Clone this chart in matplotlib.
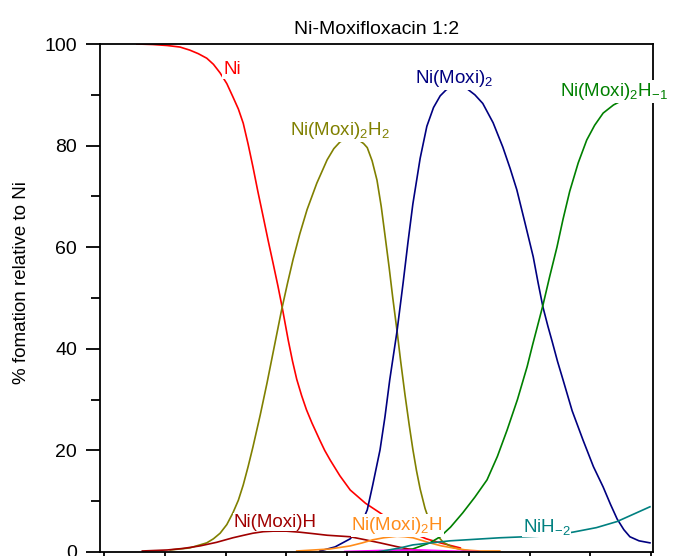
import numpy as np
import matplotlib
matplotlib.use("Agg")
import matplotlib.pyplot as plt

plt.rcParams['font.family'] = ['Liberation Sans', 'DejaVu Sans']
plt.rcParams['mathtext.fontset'] = 'custom'
plt.rcParams['mathtext.rm'] = 'Liberation Sans'
plt.rcParams['mathtext.it'] = 'Liberation Sans:italic'

# species distribution (x = pH, y = % formation)
ni_ph = [2.54, 2.80, 3.04, 3.25, 3.41, 3.55, 3.69, 3.80, 3.91, 4.02, 4.12, 4.21,
         4.29, 4.37, 4.45, 4.53, 4.62, 4.70, 4.78, 4.86, 4.93, 5.03, 5.10, 5.17,
         5.25, 5.33, 5.42, 5.55, 5.63, 5.72, 5.88, 6.05, 6.30, 6.54, 6.80, 7.08,
         7.30, 7.53, 7.86]
ni_y = [100, 99.9, 99.7, 99.4, 98.8, 98.1, 97.2, 96.0, 94.3, 92.2, 89.6, 87.2,
        84.4, 80.3, 75.8, 71.0, 65.9, 61.3, 56.9, 52.4, 48.2, 41.7, 37.6, 34.0,
        30.8, 28.0, 25.4, 22.0, 20.0, 18.1, 15.0, 12.2, 9.6, 7.7, 5.6, 3.7,
        2.6, 1.8, 0.8]

h2_ph = [3.09, 3.41, 3.69, 3.80, 3.91, 4.02, 4.12, 4.21, 4.29, 4.37, 4.45, 4.57,
         4.68, 4.79, 4.92, 5.02, 5.11, 5.22, 5.34, 5.50, 5.67, 5.78, 5.88, 6.00,
         6.10, 6.20, 6.27, 6.33, 6.41, 6.49, 6.56, 6.62, 6.69, 6.75, 6.82, 6.88,
         6.95, 7.02, 7.08, 7.14, 7.20, 7.28, 7.36, 7.47, 7.58, 7.74, 7.90, 8.18]
h2_y = [0.4, 0.8, 1.8, 2.6, 3.7, 5.4, 7.7, 10.2, 13.2, 16.8, 20.7, 27.0,
        33.2, 39.8, 47.6, 53.0, 57.6, 62.6, 67.4, 72.6, 77.2, 79.4, 80.7, 81.5,
        81.6, 81.0, 80.4, 79.6, 77.0, 73.2, 68.0, 62.5, 56.0, 50.0, 43.5, 37.5,
        31.0, 25.0, 20.2, 16.0, 12.4, 8.6, 5.8, 3.4, 1.9, 0.9, 0.4, 0.0]

ml2_ph = [5.55, 5.80, 6.05, 6.21, 6.33, 6.42, 6.54, 6.62, 6.70, 6.82, 6.92, 7.00,
          7.08, 7.20, 7.31, 7.42, 7.53, 7.63, 7.74, 7.86, 7.97, 8.10, 8.23, 8.40,
          8.56, 8.68, 8.79, 8.92, 9.06, 9.14, 9.22, 9.30, 9.37, 9.46, 9.55, 9.70,
          9.88, 10.05, 10.21, 10.33, 10.44, 10.55, 10.65, 10.80, 10.98]
ml2_y = [0.2, 1.0, 2.6, 4.9, 8.3, 13.2, 20.1, 26.5, 33.9, 43.5, 53.0, 61.0,
         68.5, 77.5, 83.8, 87.5, 89.8, 91.0, 91.6, 91.6, 91.2, 90.0, 88.3, 84.5,
         79.7, 75.5, 71.3, 65.0, 58.1, 53.0, 48.2, 44.5, 41.5, 37.5, 33.9, 27.8,
         22.0, 16.8, 12.8, 9.4, 6.5, 4.4, 3.0, 2.2, 1.8]

hm1_ph = [6.70, 7.08, 7.36, 7.53, 7.70, 7.90, 8.10, 8.30, 8.47, 8.63, 8.80, 8.96,
          9.05, 9.12, 9.22, 9.33, 9.45, 9.55, 9.66, 9.80, 9.94, 10.07, 10.21, 10.38,
          10.54, 10.65, 11.0]
hm1_y = [0.2, 0.6, 1.8, 3.0, 4.9, 7.7, 10.8, 14.2, 18.8, 24.0, 30.0, 36.5,
         40.8, 44.0, 48.6, 54.2, 60.0, 65.5, 71.0, 76.6, 81.1, 84.0, 86.4, 88.0,
         89.0, 89.4, 90.2]

mlh_ph = [2.63, 3.04, 3.30, 3.58, 3.85, 4.12, 4.30, 4.45, 4.62, 4.78, 5.00, 5.22,
          5.45, 5.67, 6.05, 6.30, 6.54, 6.80, 7.08, 7.36]
mlh_y = [0.2, 0.4, 0.7, 1.2, 1.9, 2.8, 3.3, 3.7, 4.0, 4.1, 4.1, 3.9,
         3.6, 3.3, 3.0, 2.4, 1.8, 1.1, 0.4, 0.0]

ml2h_ph = [5.17, 5.45, 5.72, 6.05, 6.25, 6.42, 6.60, 6.82, 6.95, 7.08, 7.22, 7.36,
           7.55, 7.74, 7.95, 8.18, 8.51]
ml2h_y = [0.2, 0.4, 0.6, 1.2, 1.8, 2.4, 2.8, 3.1, 3.0, 2.8, 2.3, 1.8,
          1.2, 0.8, 0.4, 0.2, 0.2]

nih1_ph = [5.96, 6.54, 7.20, 7.69, 8.18]
nih1_y = [0.1, 0.3, 0.4, 0.2, 0.05]

nih2_ph = [6.49, 6.87, 7.08, 7.69, 8.51, 9.34, 9.71, 10.10, 10.44, 10.98]
nih2_y = [0.0, 0.8, 1.4, 2.2, 2.8, 3.2, 3.9, 4.8, 6.0, 8.9]

fig = plt.figure(figsize=(6.75, 5.56), dpi=100)
ax = fig.add_axes([100/675, 4/556, 553/675, 508/556])

lw = 1.2
ax.plot(ni_ph, ni_y, color="#ff0000", lw=lw)
ax.plot(h2_ph, h2_y, color="#808000", lw=lw)
ax.plot(ml2_ph, ml2_y, color="#000080", lw=lw)
ax.plot(hm1_ph, hm1_y, color="#008000", lw=lw)
ax.plot(mlh_ph, mlh_y, color="#a00000", lw=lw)
ax.plot(ml2h_ph, ml2h_y, color="#ff8c1a", lw=lw)
ax.plot(nih1_ph, nih1_y, color="#ff00ff", lw=lw)
ax.plot(nih2_ph, nih2_y, color="#008080", lw=lw)

box = dict(facecolor="white", edgecolor="none", pad=0.5)
fs = 13.5
ax.text(3.96, 94.1, "Ni", color="#ff0000", fontsize=fs, bbox=box)
ax.text(5.06, 82.1, r"Ni(Moxi)$_2$H$_2$", color="#808000", fontsize=fs, bbox=box)
ax.text(7.12, 92.3, r"Ni(Moxi)$_2$", color="#000080", fontsize=fs, bbox=box)
ax.text(9.50, 89.8, r"Ni(Moxi)$_2$H$_{-1}$", color="#008000", fontsize=fs, bbox=box)
ax.text(4.13, 5.0, "Ni(Moxi)H", color="#a00000", fontsize=fs, bbox=box)
ax.text(6.07, 4.3, r"Ni(Moxi)$_2$H", color="#ff8c1a", fontsize=fs, bbox=box)
ax.text(8.89, 4.0, r"NiH$_{-2}$", color="#008080", fontsize=fs, bbox=box)

ax.set_xlim(1.934, 11.03)
ax.set_ylim(0, 100)
ax.set_xticks(np.arange(2, 12, 1))
ax.set_yticks(np.arange(0, 101, 20))
ax.set_yticks(np.arange(10, 100, 20), minor=True)
ax.tick_params(axis="y", which="major", direction="out", length=10, width=1.3,
               pad=6.5, labelsize=14)
ax.tick_params(axis="y", which="minor", direction="out", length=6.5, width=1.3)
ax.tick_params(axis="x", direction="out", length=6, width=1.3, labelbottom=False)
for s in ax.spines.values():
    s.set_linewidth(1.3)

ax.set_title("Ni-Moxifloxacin 1:2", fontsize=14, pad=7)
fig.text(22/675, 1 - 283/556, "% fomation relative to Ni", rotation=90,
         ha="center", va="center", fontsize=13.5)

fig.savefig("out.png", dpi=100)
